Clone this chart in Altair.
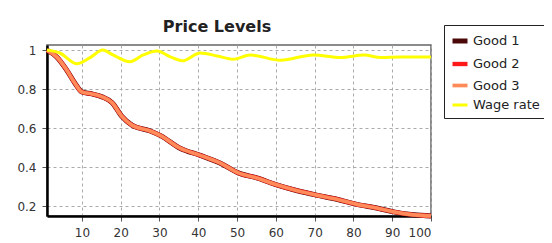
import altair as alt
import pandas as pd

# Goods price levels (three goods lie practically on top of each other)
goods_x = [1, 3.5, 6, 8.2, 10, 12.6, 15.2, 17.8, 20.3, 22.9, 27.6, 30.4, 35.3, 40.5,
           45.7, 50.3, 55.3, 60, 65.3, 70.5, 75.7, 80.6, 86, 90.4, 95.6, 100]
good1 = [1.0, 0.965, 0.90, 0.83, 0.785, 0.775, 0.76, 0.73, 0.66, 0.615, 0.585, 0.56, 0.497, 0.46,
         0.42, 0.37, 0.343, 0.31, 0.28, 0.256, 0.235, 0.21, 0.19, 0.17, 0.155, 0.149]
good2 = [1.0, 0.965, 0.90, 0.83, 0.785, 0.775, 0.76, 0.73, 0.66, 0.615, 0.585, 0.56, 0.497, 0.46,
         0.42, 0.37, 0.343, 0.31, 0.28, 0.256, 0.235, 0.21, 0.19, 0.17, 0.155, 0.149]
good3 = [1.0, 0.965, 0.90, 0.83, 0.785, 0.775, 0.76, 0.73, 0.66, 0.615, 0.585, 0.56, 0.497, 0.46,
         0.42, 0.37, 0.343, 0.31, 0.28, 0.256, 0.235, 0.21, 0.19, 0.17, 0.155, 0.149]

wage_x = [1, 4.3, 8.7, 12, 15.4, 18, 22.4, 25.8, 29.4, 32.8, 35.9, 40.5, 44.9, 49,
          53.4, 61.2, 69.7, 76.7, 82.7, 87, 92.2, 100]
wage = [1.0, 0.985, 0.93, 0.96, 1.0, 0.975, 0.94, 0.975, 0.995, 0.965, 0.945, 0.985, 0.97, 0.953,
        0.975, 0.948, 0.975, 0.962, 0.975, 0.962, 0.965, 0.965]

series_names = ["Good 1", "Good 2", "Good 3", "Wage rate"]
series_colors = ["#4a0808", "#ff1a1a", "#ff8a5a", "#ffff00"]
series_widths = [5, 3, 1.4, 4]

x_ticks = [10, 20, 30, 40, 50, 60, 70, 80, 90, 100]
y_ticks = [0.2, 0.4, 0.6, 0.8, 1.0]

rows = []
for name, ys in zip(series_names[:3], [good1, good2, good3]):
    for x, y in zip(goods_x, ys):
        rows.append({"series": name, "t": x, "v": y})
for x, y in zip(wage_x, wage):
    rows.append({"series": "Wage rate", "t": x, "v": y})
df = pd.DataFrame(rows)

legend_kw = dict(title=None, orient="none", legendX=397, legendY=-20,
                 symbolType="stroke", symbolSize=225,
                 labelFontSize=13, labelColor="#222", labelFont="DejaVu Sans",
                 strokeColor="#222", fillColor="white",
                 padding=6, rowPadding=3, labelOffset=3)

chart = alt.Chart(df).mark_line(interpolate="monotone").encode(
    x=alt.X("t:Q", scale=alt.Scale(domain=[1, 100], nice=False, zero=False),
            axis=alt.Axis(values=x_ticks, title=None, format="d")),
    y=alt.Y("v:Q", scale=alt.Scale(domain=[0.149, 1.026], nice=False, zero=False),
            axis=alt.Axis(values=y_ticks, title=None, format="~g")),
    color=alt.Color("series:N", scale=alt.Scale(domain=series_names, range=series_colors),
                    legend=alt.Legend(**legend_kw)),
    strokeWidth=alt.StrokeWidth("series:N", scale=alt.Scale(domain=series_names, range=series_widths),
                                legend=alt.Legend(**legend_kw)),
).properties(
    width=384, height=171,
    title=alt.TitleParams("Price Levels", fontSize=16, font="DejaVu Sans", fontWeight="bold",
                          color="#222", anchor="middle", dx=-22, dy=22, offset=12),
    autosize=alt.AutoSizeParams(type="none"),
    padding={"left": 39, "top": 37, "right": 113, "bottom": 27},
).configure_view(
    stroke="#666", strokeWidth=1.5
).configure_axis(
    grid=True, gridColor="#aaa", gridDash=[3, 3], gridWidth=1,
    domainColor="black", domainWidth=2.5,
    tickColor="#555", tickSize=5,
    labelFont="DejaVu Sans", labelFontSize=12, labelColor="#333",
).configure_axisX(labelPadding=6).configure_axisY(labelPadding=6)

chart.save("out.html", embed_options={"renderer": "svg", "actions": False})
